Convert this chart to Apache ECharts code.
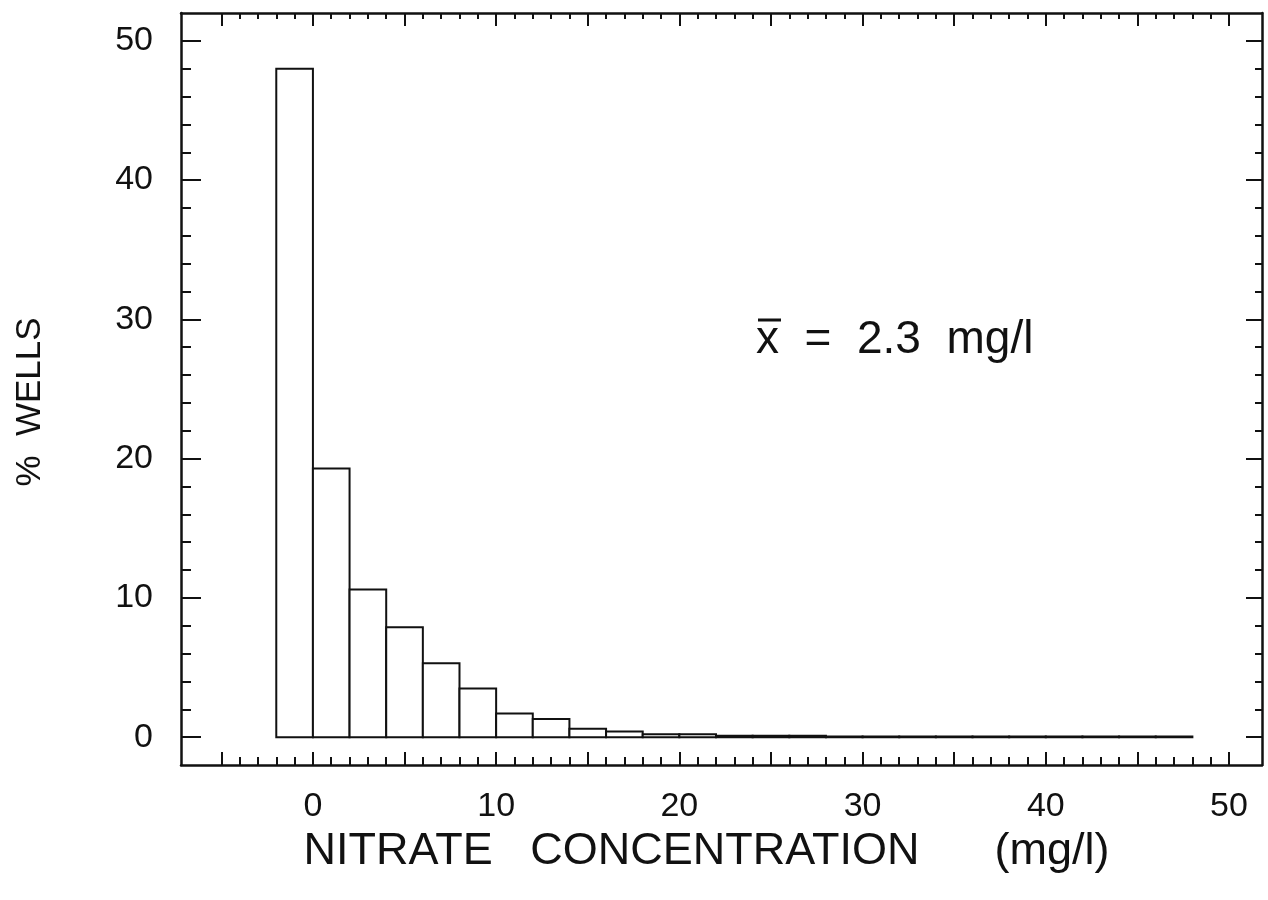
<!DOCTYPE html>
<html>
<head>
<meta charset="utf-8">
<script src="https://cdn.jsdelivr.net/npm/echarts@6/dist/echarts.min.js"></script>
<style>html,body{margin:0;padding:0;background:#fff}#c{width:1268px;height:900px}</style>
</head>
<body>
<div id="c"></div>
<script>
// Histogram bins (mg/l) and % wells
const binStart = [-2, 0, 2, 4, 6, 8, 10, 12, 14, 16, 18, 20, 22, 24, 26, 28, 30, 32, 34, 36, 38, 40, 42, 44, 46];
const binWidth = 2;
const percentWells = [48.0, 19.3, 10.6, 7.9, 5.3, 3.5, 1.7, 1.3, 0.6, 0.4, 0.2, 0.2, 0.1, 0.1, 0.1, 0.05, 0.05, 0.05, 0.05, 0.05, 0.05, 0.05, 0.05, 0.05, 0.05];
// Axis ticks and labels
const xMajorTicks = [-5, 0, 5, 10, 15, 20, 25, 30, 35, 40, 45, 50];
const xMinorTicks = [-5,-4,-3,-2,-1,0,1,2,3,4,5,6,7,8,9,10,11,12,13,14,15,16,17,18,19,20,21,22,23,24,25,26,27,28,29,30,31,32,33,34,35,36,37,38,39,40,41,42,43,44,45,46,47,48,49,50];
const xLabels = [0, 10, 20, 30, 40, 50];
const yMajorTicks = [0, 10, 20, 30, 40, 50];
const yMinorTicks = [0,2,4,6,8,10,12,14,16,18,20,22,24,26,28,30,32,34,36,38,40,42,44,46,48,50];
const yLabels = [0, 10, 20, 30, 40, 50];
const xTitle = 'NITRATE   CONCENTRATION      (mg/l)';
const yTitle = '%  WELLS';
const meanText = 'x  =  2.3  mg/l';

const FONT = '"Liberation Sans", Arial, Helvetica, sans-serif';
const INK = '#111';
const X_MIN = -7.2, X_MAX = 51.8, Y_MIN = -2, Y_MAX = 52;

const histData = binStart.map((s, i) => [s, s + binWidth, percentWells[i]]);

function xAx(pos, ticks, len, showLine, labels) {
  return {
    type: 'value', position: pos, min: X_MIN, max: X_MAX, gridIndex: 0,
    axisLine: {show: showLine, onZero: false, lineStyle: {color: INK, width: 2.5}},
    axisTick: {show: true, inside: true, length: len, customValues: ticks, lineStyle: {color: INK, width: 2}},
    axisLabel: labels ? {show: true, customValues: labels, fontSize: 34, color: INK, fontFamily: FONT, margin: 25} : {show: false},
    splitLine: {show: false}
  };
}
function yAx(pos, ticks, len, showLine, labels) {
  return {
    type: 'value', position: pos, min: Y_MIN, max: Y_MAX, gridIndex: 0,
    axisLine: {show: showLine, onZero: false, lineStyle: {color: INK, width: 2.5}},
    axisTick: {show: true, inside: true, length: len, customValues: ticks, lineStyle: {color: INK, width: 2}},
    axisLabel: labels ? {show: true, customValues: labels, fontSize: 34, color: INK, fontFamily: FONT, margin: 28} : {show: false},
    splitLine: {show: false}
  };
}

const xAxes = [
  xAx('bottom', xMajorTicks, 13, true, xLabels),
  xAx('bottom', xMinorTicks, 8, false, null),
  xAx('top', xMajorTicks, 13, true, null),
  xAx('top', xMinorTicks, 6, false, null)
];
Object.assign(xAxes[0], {name: xTitle, nameLocation: 'middle', nameGap: 63,
  nameTextStyle: {fontSize: 45, color: INK, fontFamily: FONT, padding: [0, 30, 0, 0]}});
const yAxes = [
  yAx('left', yMajorTicks, 20, true, yLabels),
  yAx('left', yMinorTicks, 10, false, null),
  yAx('right', yMajorTicks, 16, true, null),
  yAx('right', yMinorTicks, 7, false, null)
];
Object.assign(yAxes[0], {name: yTitle, nameLocation: 'middle', nameGap: 133, nameRotate: 90,
  nameTextStyle: {fontSize: 35, color: INK, fontFamily: FONT, padding: [0, 26, 0, 0]}});

const chart = echarts.init(document.getElementById('c'), null, {renderer: 'canvas'});
chart.setOption({
  backgroundColor: '#fff',
  animation: false,
  grid: {left: 181, right: 6, top: 13, bottom: 135},
  xAxis: xAxes,
  yAxis: yAxes,
  series: [{
    type: 'custom',
    xAxisIndex: 0, yAxisIndex: 0,
    encode: {x: [0, 1], y: 2},
    data: histData,
    renderItem: function (params, api) {
      const p0 = api.coord([api.value(0), api.value(2)]);
      const p1 = api.coord([api.value(1), 0]);
      return {type: 'rect', shape: {x: p0[0], y: p0[1], width: p1[0] - p0[0], height: p1[1] - p0[1]},
        style: {fill: '#fff', stroke: INK, lineWidth: 2}};
    }
  }],
  graphic: [
    {type: 'text', left: 756, top: 317, style: {text: meanText, fontSize: 46, fill: INK, fontFamily: FONT}},
    {type: 'line', shape: {x1: 758, y1: 320, x2: 781, y2: 320}, style: {stroke: INK, lineWidth: 3}}
  ]
});
</script>
</body>
</html>
